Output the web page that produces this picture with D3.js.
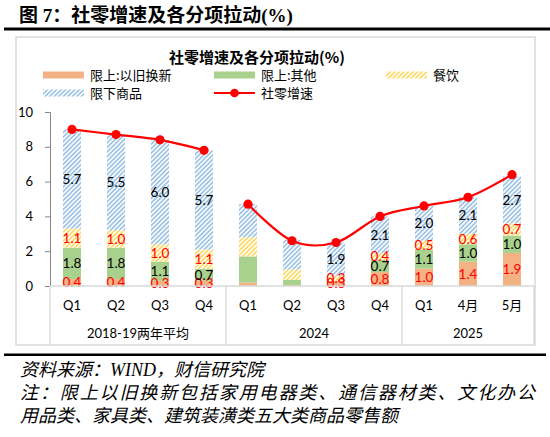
<!DOCTYPE html>
<html>
<head>
<meta charset="utf-8">
<script src="https://cdn.jsdelivr.net/npm/d3@7"></script>
<style>
  body { margin: 0; background: #fff; }
  svg { display: block; }
</style>
</head>
<body>
<div id="chart"></div>
<script>
// categories and groups
const categories = ["Q1", "Q2", "Q3", "Q4", "Q1", "Q2", "Q3", "Q4", "Q1", "4月", "5月"];
const groupNames = ["2018-19两年平均", "2024", "2025"];
const groupSizes = [4, 4, 3];

// series (pull on retail sales growth, pct points)
const tradeIn   = [0.4, 0.4, 0.3, 0.3, 0.2, 0.05, 0.3, 0.8, 1.0, 1.4, 1.9];
const otherAbove = [1.8, 1.8, 1.1, 0.7, 1.5, 0.3, 0.0, 0.7, 1.1, 1.0, 1.0];
const catering  = [1.1, 1.0, 1.0, 1.1, 1.1, 0.6, 0.3, 0.4, 0.5, 0.6, 0.7];
const belowLimit = [5.7, 5.5, 6.0, 5.7, 1.9, 1.7, 1.9, 2.1, 2.0, 2.1, 2.7];
const retailGrowth = [9.0, 8.7, 8.4, 7.8, 4.7, 2.6, 2.5, 4.0, 4.6, 5.1, 6.4];
const lineSegments = [[0, 3], [4, 10]];
const labelShown = [true, true, true, true, false, false, true, true, true, true, true];
const yTicks = [0, 2, 4, 6, 8, 10];

const series = [
  { name: "限上:以旧换新", values: tradeIn, fill: "#f4b183", label: "#ff0000" },
  { name: "限上:其他", values: otherAbove, fill: "#a9d18e", label: "#000" },
  { name: "餐饮", values: catering, fill: "url(#hatchYellow)", label: "#ff0000" },
  { name: "限下商品", values: belowLimit, fill: "url(#hatchBlue)", label: "#000" }
];

const W = 550, H = 437;
const plot = { left: 50, right: 534, top: 112, bottom: 286 };
const numFont = "Lato, 'Noto Sans CJK SC', sans-serif";
const cjkFont = "'Noto Sans CJK SC', sans-serif";

const svg = d3.select("#chart").append("svg")
  .attr("width", W)
  .attr("height", H);

// hatch patterns
const defs = svg.append("defs");
function hatch(id, color) {
  const p = defs.append("pattern")
    .attr("id", id)
    .attr("patternUnits", "userSpaceOnUse")
    .attr("width", 3.2)
    .attr("height", 3.2)
    .attr("patternTransform", "rotate(45)");
  p.append("rect").attr("width", 3.2).attr("height", 3.2).attr("fill", "#fff");
  p.append("rect").attr("width", 1.7).attr("height", 3.2).attr("fill", color);
}
hatch("hatchBlue", "#9dc3e6");
hatch("hatchYellow", "#ffd966");

// page title + rules
svg.append("text")
  .attr("x", 19).attr("y", 22)
  .attr("font-family", "'Liberation Serif', 'Noto Sans CJK SC', serif")
  .attr("font-weight", "bold")
  .attr("font-size", 19)
  .text("图 7：社零增速及各分项拉动(%)");

svg.append("rect").attr("x", 4).attr("y", 27.5).attr("width", 546).attr("height", 3).attr("fill", "#000");

// chart frame
svg.append("rect")
  .attr("x", 16).attr("y", 37)
  .attr("width", 519).attr("height", 308)
  .attr("fill", "none")
  .attr("stroke", "#d9d9d9")
  .attr("stroke-width", 1.5);

svg.append("text")
  .attr("x", 257).attr("y", 63)
  .attr("text-anchor", "middle")
  .attr("font-family", cjkFont)
  .attr("font-weight", "bold")
  .attr("font-size", 15)
  .attr("fill", "#000")
  .text("社零增速及各分项拉动(%)");

// scales
const x = d3.scaleBand()
  .domain(d3.range(categories.length))
  .range([plot.left, plot.right])
  .padding(0);
const barW = x.bandwidth() * 0.41;
const y = d3.scaleLinear().domain([0, 10]).range([plot.bottom, plot.top]);

// y axis
const yAxis = svg.append("g")
  .attr("transform", `translate(${plot.left},0)`)
  .call(d3.axisLeft(y).tickValues(yTicks).tickSize(5).tickPadding(12));
yAxis.select(".domain").attr("stroke", "#868686");
yAxis.selectAll(".tick line").attr("stroke", "#868686");
yAxis.selectAll("text")
  .attr("font-family", numFont)
  .attr("font-size", 13)
  .attr("fill", "#000");

// stacked bars
const stack = d3.stack()
  .keys(d3.range(series.length))
  .value((d, k) => series[k].values[d]);
const stacked = stack(d3.range(categories.length));

stacked.forEach((layer, k) => {
  const s = series[k];
  svg.append("g").selectAll("rect")
    .data(layer)
    .join("rect")
    .attr("x", (d, i) => x(i) + (x.bandwidth() - barW) / 2)
    .attr("y", d => y(d[1]))
    .attr("width", barW)
    .attr("height", d => Math.max(0, y(d[0]) - y(d[1])))
    .attr("fill", s.fill);
});

// data labels
stacked.forEach((layer, k) => {
  const s = series[k];
  svg.append("g").selectAll("text")
    .data(layer.map((d, i) => ({ d, i })).filter(o => labelShown[o.i] && s.values[o.i] > 0))
    .join("text")
    .attr("x", o => x(o.i) + x.bandwidth() / 2)
    .attr("y", o => (y(o.d[0]) + y(o.d[1])) / 2)
    .attr("dy", "0.36em")
    .attr("text-anchor", "middle")
    .attr("font-family", numFont)
    .attr("font-size", 13.5)
    .attr("fill", s.label)
    .text(o => d3.format(".1f")(s.values[o.i]));
});

// x axis line + category rows
svg.append("line")
  .attr("x1", plot.left).attr("x2", plot.right)
  .attr("y1", plot.bottom).attr("y2", plot.bottom)
  .attr("stroke", "#d9d9d9").attr("stroke-width", 1.3);

let start = 0;
const dividers = [0];
groupSizes.forEach(n => { start += n; dividers.push(start); });
svg.append("g").selectAll("line")
  .data(dividers)
  .join("line")
  .attr("x1", i => i < categories.length ? x(i) : plot.right)
  .attr("x2", i => i < categories.length ? x(i) : plot.right)
  .attr("y1", plot.bottom).attr("y2", 345)
  .attr("stroke", "#d9d9d9").attr("stroke-width", 1.3);

svg.append("g").selectAll("text")
  .data(categories)
  .join("text")
  .attr("x", (d, i) => x(i) + x.bandwidth() / 2)
  .attr("y", 305)
  .attr("dy", "0.36em")
  .attr("text-anchor", "middle")
  .attr("font-family", numFont)
  .attr("font-size", 13)
  .attr("fill", "#000")
  .text(d => d);

svg.append("g").selectAll("text")
  .data(groupNames)
  .join("text")
  .attr("x", (d, g) => {
    const a = dividers[g], b = dividers[g + 1];
    const x0 = x(a), x1 = b < categories.length ? x(b) : plot.right;
    return (x0 + x1) / 2;
  })
  .attr("y", 333)
  .attr("dy", "0.36em")
  .attr("text-anchor", "middle")
  .attr("font-family", numFont)
  .attr("font-size", 13)
  .attr("fill", "#000")
  .text(d => d);

// retail growth line
const line = d3.line()
  .x(i => x(i) + x.bandwidth() / 2)
  .y(i => y(retailGrowth[i]))
  .curve(d3.curveCardinal.tension(0));

svg.append("g").selectAll("path")
  .data(lineSegments.map(([a, b]) => d3.range(a, b + 1)))
  .join("path")
  .attr("d", line)
  .attr("fill", "none")
  .attr("stroke", "#ff0000")
  .attr("stroke-width", 2.2);

svg.append("g").selectAll("circle")
  .data(retailGrowth)
  .join("circle")
  .attr("cx", (d, i) => x(i) + x.bandwidth() / 2)
  .attr("cy", d => y(d))
  .attr("r", 4.6)
  .attr("fill", "#ff0000");

// legend
const legendItems = [
  { name: series[0].name, fill: series[0].fill, x: 43, y: 75 },
  { name: series[1].name, fill: series[1].fill, x: 214, y: 75 },
  { name: series[2].name, fill: series[2].fill, x: 386, y: 75 },
  { name: series[3].name, fill: series[3].fill, x: 43, y: 93 },
  { name: "社零增速", line: true, x: 214, y: 93 }
];
const lg = svg.append("g").selectAll("g")
  .data(legendItems)
  .join("g")
  .attr("transform", d => `translate(${d.x},${d.y})`);
lg.filter(d => !d.line).append("rect")
  .attr("x", 0).attr("y", -3.5)
  .attr("width", 41).attr("height", 7)
  .attr("fill", d => d.fill);
lg.filter(d => d.line).append("line")
  .attr("x1", 0).attr("x2", 41)
  .attr("stroke", "#ff0000").attr("stroke-width", 2.2);
lg.filter(d => d.line).append("circle")
  .attr("cx", 20.5).attr("r", 4.3).attr("fill", "#ff0000");
lg.append("text")
  .attr("x", 47)
  .attr("dy", "0.36em")
  .attr("font-family", cjkFont)
  .attr("font-size", 13)
  .attr("fill", "#000")
  .text(d => d.name);

// footer
svg.append("rect").attr("x", 4).attr("y", 353.5).attr("width", 542).attr("height", 2.5).attr("fill", "#000");

const notes = [
  { t: "资料来源：WIND，财信研究院", y: 376 },
  { t: "注：限上以旧换新包括家用电器类、通信器材类、文化办公", y: 399, len: 515 },
  { t: "用品类、家具类、建筑装潢类五大类商品零售额", y: 422 }
];
notes.forEach(n => {
  const t = svg.append("text")
    .attr("x", 20).attr("y", n.y)
    .attr("font-family", "'Liberation Serif', 'Noto Sans CJK SC', serif")
    .attr("font-style", "italic")
    .attr("font-size", 18)
    .attr("fill", "#000")
    .text(n.t);
  if (n.len) t.attr("textLength", n.len).attr("lengthAdjust", "spacing");
});
</script>
</body>
</html>
